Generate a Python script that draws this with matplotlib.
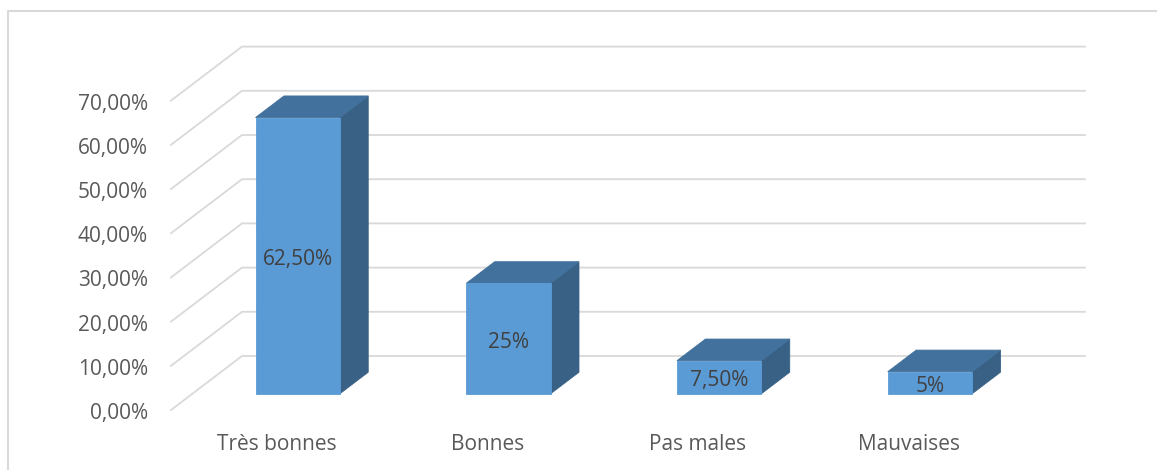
import matplotlib.pyplot as plt
from matplotlib.patches import Polygon

plt.rcParams['font.family'] = ['Open Sans', 'DejaVu Sans']

categories = ['Très bonnes', 'Bonnes', 'Pas males', 'Mauvaises']
values = [62.5, 25.0, 7.5, 5.0]
value_labels = ['62,50%', '25%', '7,50%', '5%']
ticks = [0, 10, 20, 30, 40, 50, 60, 70]
tick_labels = ['0,00%', '10,00%', '20,00%', '30,00%', '40,00%', '50,00%', '60,00%', '70,00%']

W, H = 1157, 470
# pixel geometry of the oblique 3D frame
X0, Y0 = 171, 410          # front-left corner of the floor
CAT_W = 210.75             # pixels per category
PX_PER_PCT = 4.42          # pixels per 1 %
DEPTH_DX, DEPTH_DY = 71, 54
TXT_DROP = 3.5 / PX_PER_PCT  # nudge text down so digits sit centred

# data units: x in categories, y in %
ox = DEPTH_DX / CAT_W
oy = DEPTH_DY / PX_PER_PCT


def proj(x, y, d):
    return (x + d * ox, y + d * oy)


fig = plt.figure(figsize=(W / 100, H / 100), dpi=100)
ax = fig.add_axes([0, 0, 1, 1])
ax.set_xlim(-X0 / CAT_W, (W - X0) / CAT_W)
ax.set_ylim((Y0 - H) / PX_PER_PCT, Y0 / PX_PER_PCT)
ax.axis('off')

grid_c = '#d9d9d9'
text_c = '#595959'
n = len(categories)

# walls: diagonal lines on the side wall and horizontal lines on the back wall
for t in ticks:
    a = proj(0, t, 0)
    b = proj(0, t, 1)
    c = proj(n, t, 1)
    ax.plot([a[0], b[0], c[0]], [a[1], b[1], c[1]], color=grid_c, lw=1.3,
            solid_joinstyle='miter', zorder=1)

for t, lab in zip(ticks, tick_labels):
    ax.text(-X0 / CAT_W + 148 / CAT_W, t - TXT_DROP, lab, ha='right', va='center',
            fontsize=15, color=text_c)

front_c = '#5b9bd5'
top_c = '#41719c'
side_c = '#386185'
edge_c = '#5b9bd5'
bw = 0.4
d0, d1 = 0.3, 0.7

for i, (v, lab) in enumerate(zip(values, value_labels)):
    xl = i + 0.5 - bw / 2
    xr = i + 0.5 + bw / 2
    front = [proj(xl, 0, d0), proj(xr, 0, d0), proj(xr, v, d0), proj(xl, v, d0)]
    top = [proj(xl, v, d0), proj(xr, v, d0), proj(xr, v, d1), proj(xl, v, d1)]
    side = [proj(xr, 0, d0), proj(xr, 0, d1), proj(xr, v, d1), proj(xr, v, d0)]
    ax.add_patch(Polygon(side, closed=True, fc=side_c, ec=side_c, lw=0.6, zorder=3))
    ax.add_patch(Polygon(top, closed=True, fc=top_c, ec=top_c, lw=0.6, zorder=3))
    ax.add_patch(Polygon(front, closed=True, fc=front_c, ec=edge_c, lw=0.6, zorder=4))
    cx, cy = proj(i + 0.5, v / 2, d0)
    ax.text(cx, cy - TXT_DROP, lab, ha='center', va='center', fontsize=15,
            color='#404040', zorder=5)
    lx, ly = proj(i + 0.5, 0, 0)
    ax.text(lx, ly - 31 / PX_PER_PCT - TXT_DROP, categories[i], ha='center', va='center',
            fontsize=15, color=text_c)

# chart area border (left and top edges visible)
bx = -X0 / CAT_W + 8 / CAT_W
by = (Y0 - 11) / PX_PER_PCT
ax.plot([bx, bx, (W - X0) / CAT_W], [(Y0 - H) / PX_PER_PCT, by, by],
        color='#d9d9d9', lw=1.5, zorder=0)

fig.savefig('out.png', dpi=100)
